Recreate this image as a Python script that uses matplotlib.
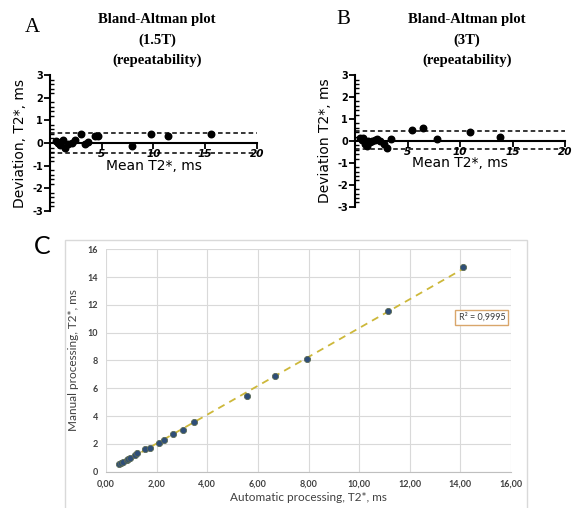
import numpy as np
import matplotlib
matplotlib.use('Agg')
import matplotlib.pyplot as plt
from matplotlib.patches import Rectangle
from matplotlib.ticker import MultipleLocator

plt.rcParams['axes.unicode_minus'] = False

# Panel A - Bland-Altman 1.5T
a_mean = [0.55, 0.74, 0.97, 1.1, 1.3, 1.45, 1.77, 2.1, 2.4, 3.0, 3.4, 3.7, 4.35, 4.67, 7.9, 9.76, 11.4, 15.6]
a_diff = [0.08, 0.01, -0.09, 0.06, 0.12, -0.22, -0.06, 0.01, 0.15, 0.4, -0.05, 0.05, 0.3, 0.3, -0.12, 0.4, 0.32, 0.4]
a_upper = 0.45
a_lower = -0.42

# Panel B - Bland-Altman 3T
b_mean = [0.5, 0.64, 0.8, 0.95, 1.1, 1.27, 1.44, 1.6, 1.9, 2.1, 2.4, 2.75, 3.05, 3.4, 5.45, 6.5, 7.8, 10.96, 13.8]
b_diff = [0.12, 0.05, 0.15, -0.12, -0.25, 0.02, -0.05, -0.02, 0.05, 0.1, -0.02, -0.15, -0.3, 0.1, 0.5, 0.6, 0.1, 0.4, 0.2]
b_upper = 0.45
b_lower = -0.36

# Panel C - automatic vs manual
c_auto = [0.53, 0.6, 0.68, 0.82, 0.88, 0.95, 1.15, 1.21, 1.54, 1.74, 2.11, 2.29, 2.66, 3.06, 3.48, 5.56, 6.68, 7.93, 11.13, 14.1]
c_manual = [0.55, 0.6, 0.72, 0.84, 0.9, 0.96, 1.2, 1.32, 1.6, 1.68, 2.09, 2.28, 2.71, 3.0, 3.6, 5.47, 6.88, 8.08, 11.58, 14.7]
c_xticks = [0, 2, 4, 6, 8, 10, 12, 14, 16]
c_xlabels = ['0,00', '2,00', '4,00', '6,00', '8,00', '10,00', '12,00', '14,00', '16,00']
c_r2 = 'R² = 0,9995'

fig = plt.figure(figsize=(5.74, 5.08), dpi=100)


def bland_altman(ax, x, y, up, lo, ylabel):
    ax.scatter(x, y, s=22, color='black', zorder=3, clip_on=False)
    ax.axhline(up, color='black', lw=1.1, ls=(0, (3, 2)))
    ax.axhline(lo, color='black', lw=1.1, ls=(0, (3, 2)))
    ax.set_xlim(0, 20)
    ax.set_ylim(-3, 3)
    ax.spines['top'].set_visible(False)
    ax.spines['right'].set_visible(False)
    ax.spines['bottom'].set_position(('data', 0))
    ax.spines['bottom'].set_linewidth(1.5)
    ax.spines['left'].set_linewidth(1.5)
    ax.set_xticks([5, 10, 15, 20])
    ax.set_yticks([-3, -2, -1, 0, 1, 2, 3])
    ax.yaxis.set_minor_locator(MultipleLocator(0.2))
    ax.tick_params(axis='y', which='major', length=4, width=1.3, labelsize=7, pad=1)
    ax.tick_params(axis='y', which='minor', direction='in', length=3, width=1)
    ax.tick_params(axis='x', length=4, width=1.3, labelsize=7.5, pad=0)
    for lab in ax.get_xticklabels():
        lab.set_fontweight('bold')
        lab.set_fontstyle('italic')
    for lab in ax.get_yticklabels():
        lab.set_fontweight('bold')
    ax.text(10, -0.7, 'Mean T2*, ms', ha='center', va='top', fontsize=10)
    ax.set_ylabel(ylabel, fontsize=10, labelpad=4)


axA = fig.add_axes([0.0871, 0.5846, 0.3606, 0.2677])
bland_altman(axA, a_mean, a_diff, a_upper, a_lower, 'Deviation, T2*, ms')
axB = fig.add_axes([0.6185, 0.593, 0.366, 0.259])
bland_altman(axB, b_mean, b_diff, b_upper, b_lower, 'Deviation T2*, ms')

title_font = dict(family='Liberation Serif', fontweight='bold', fontsize=10.5, ha='center', va='center')
fig.text(157 / 574, 1 - 19 / 508, 'Bland-Altman plot', **title_font)
fig.text(157 / 574, 1 - 40 / 508, '(1.5T)', **title_font)
fig.text(157 / 574, 1 - 60 / 508, '(repeatability)', **title_font)
fig.text(467 / 574, 1 - 19 / 508, 'Bland-Altman plot', **title_font)
fig.text(467 / 574, 1 - 40 / 508, '(3T)', **title_font)
fig.text(467 / 574, 1 - 60 / 508, '(repeatability)', **title_font)

letter_font = dict(family='Liberation Serif', fontsize=15, ha='center', va='center')
fig.text(32 / 574, 1 - 27 / 508, 'A', **letter_font)
fig.text(343 / 574, 1 - 20 / 508, 'B', **letter_font)
fig.text(42 / 574, 1 - 246 / 508, 'C', fontsize=18, ha='center', va='center', family='Lato')

# Panel C frame
fig.patches.append(Rectangle((65 / 574, -0.01), (527 - 65) / 574, 1 - 240 / 508 + 0.01,
                             transform=fig.transFigure, fill=False, edgecolor='#d9d9d9', lw=1))

axC = fig.add_axes([0.1847, 0.0715, 0.7056, 0.4378])
fit = np.polyfit(c_auto, c_manual, 1)
xs = np.array([min(c_auto), max(c_auto)])
axC.plot(xs, np.polyval(fit, xs), color='#cdb83a', lw=1.3, ls=(0, (4, 3)), zorder=2)
axC.scatter(c_auto, c_manual, s=20, color='#2f4e78', edgecolors='#5c6b55', linewidths=0.6, zorder=3)
axC.set_xlim(0, 16)
axC.set_ylim(0, 16)
axC.set_xticks(c_xticks)
axC.set_xticklabels(c_xlabels)
axC.set_yticks(range(0, 17, 2))
axC.grid(True, color='#d9d9d9', lw=0.8)
axC.set_axisbelow(True)
for s in ['top', 'right', 'left']:
    axC.spines[s].set_visible(False)
axC.spines['bottom'].set_color('#bfbfbf')
axC.tick_params(length=0, labelsize=6.5, colors='#404040', pad=6)
for lab in axC.get_xticklabels() + axC.get_yticklabels():
    lab.set_family('Lato')
    lab.set_fontweight('bold')
axC.set_xlabel('Automatic processing, T2*, ms', fontsize=8.5, color='#404040', family='Lato', labelpad=2)
axC.set_ylabel('Manual processing, T2*, ms', fontsize=8.5, color='#404040', family='Lato', labelpad=6)
axC.text(14.85, 11.1, c_r2, ha='center', va='center', fontsize=6.5, family='Lato', color='#404040',
         bbox=dict(boxstyle='square,pad=0.35', fc='white', ec='#d9a66b', lw=1))

fig.savefig('out.png', dpi=100)
